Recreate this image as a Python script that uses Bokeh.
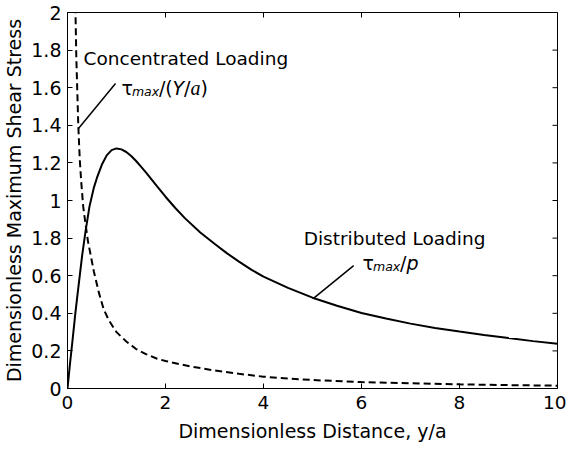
import math
from bokeh.plotting import figure
from bokeh.models import FixedTicker, Range1d, Label
from bokeh.embed import file_html
from bokeh.resources import INLINE

# ---- data ----
dist_x = [0, 0.05, 0.1, 0.16, 0.2, 0.25, 0.3, 0.37, 0.45, 0.54, 0.6, 0.7, 0.8, 0.9, 1.0, 1.1,
          1.2, 1.3, 1.4, 1.5, 1.6, 1.8, 2.0, 2.2, 2.4, 2.71, 3.0, 3.25, 3.5, 3.75, 4.0, 4.5,
          5.0, 5.5, 6.0, 6.5, 7.0, 7.5, 8.0, 8.5, 9.0, 9.5, 10]
dist_y = [0, 0.13, 0.25, 0.40, 0.49, 0.60, 0.71, 0.84, 0.97, 1.07, 1.12, 1.19, 1.24, 1.268, 1.277, 1.272,
          1.258, 1.237, 1.21, 1.18, 1.15, 1.085, 1.02, 0.96, 0.905, 0.83, 0.77, 0.72, 0.675, 0.632, 0.595, 0.535,
          0.483, 0.44, 0.402, 0.372, 0.345, 0.322, 0.303, 0.285, 0.268, 0.252, 0.238]

conc_x = [0.15, 0.163, 0.18, 0.2, 0.22, 0.25, 0.28, 0.32, 0.37, 0.42, 0.48, 0.54, 0.64, 0.74, 0.85,
          1.0, 1.2, 1.4, 1.6, 1.83, 2.0, 2.5, 3, 3.5, 4, 4.5, 5, 6, 7, 8, 9, 10]
conc_y = [2.15, 2.0, 1.76, 1.58, 1.40, 1.22, 1.10, 0.97, 0.87, 0.78, 0.70, 0.62, 0.51, 0.42, 0.36,
          0.30, 0.25, 0.21, 0.183, 0.158, 0.146, 0.118, 0.096, 0.078, 0.063, 0.053, 0.045, 0.034, 0.028, 0.022, 0.018, 0.015]

x_ticks = [0, 2, 4, 6, 8, 10]
y_ticks = [0, 0.2, 0.4, 0.6, 0.8, 1.0, 1.2, 1.4, 1.6, 1.8, 2.0]
y_tick_labels = ["0", "0.2", "0.4", "0.6", "1.8", "1", "1.2", "1.4", "1.6", "1.8", "2"]

x_label = "Dimensionless Distance, y/a"
y_label = "Dimensionless Maximum Shear Stress"

conc_title = "Concentrated Loading"
dist_title = "Distributed Loading"
conc_sym_parts = ["τ", "max", "/(", "Y", "/", "a", ")"]
dist_sym_parts = ["τ", "max", "/", "p"]

# annotation anchor points (data units)
conc_title_pos = (0.327, 1.755)
dist_title_pos = (4.82, 0.80)
conc_sym_pos = (1.10, 1.60)
dist_sym_pos = (6.02, 0.67)
conc_leader_x = [0.224, 0.98]
conc_leader_y = [1.383, 1.622]
dist_leader_x = [5.02, 5.84]
dist_leader_y = [0.479, 0.654]

FONT = "DejaVu Sans"
SERIF = "Liberation Serif"

x0, x1 = x_ticks[0], x_ticks[-1]
y0, y1 = y_ticks[0], y_ticks[-1]

p = figure(width=566, height=450, output_backend="svg", toolbar_location=None,
           x_range=Range1d(x0, x1), y_range=Range1d(y0, y1),
           min_border_left=67, min_border_right=9, min_border_top=12, min_border_bottom=62)
p.grid.visible = False
p.outline_line_color = "black"
p.outline_line_width = 1
p.background_fill_color = "white"
p.border_fill_color = "white"

for ax in (p.xaxis[0], p.yaxis[0]):
    ax.major_tick_in = 5
    ax.major_tick_out = 0
    ax.minor_tick_line_color = None
    ax.axis_line_color = "black"
    ax.major_tick_line_color = "black"
    ax.major_label_text_font = FONT
    ax.major_label_text_color = "black"
    ax.major_label_text_font_size = "19px"
    ax.axis_label_text_font = FONT
    ax.axis_label_text_font_style = "normal"
    ax.axis_label_text_font_size = "19px"
    ax.axis_label_text_color = "black"

xa = p.xaxis[0]
ya = p.yaxis[0]
xa.ticker = FixedTicker(ticks=x_ticks)
ya.ticker = FixedTicker(ticks=y_ticks)
ya.major_label_overrides = {t: s for t, s in zip(y_ticks, y_tick_labels)}
xa.major_label_text_font_size = "18.5px"
xa.major_label_standoff = 7
ya.major_label_standoff = 6
ya.axis_label = y_label
ya.axis_label_standoff = 3
xa.axis_label = x_label
xa.axis_label_standoff = 8

# inward ticks on top and right edges (clipped to the frame)
p.scatter(x=x_ticks, y=[y1] * len(x_ticks), marker="dash", angle=math.pi / 2, size=10,
          line_color="black", line_width=1)
p.scatter(x=[x1] * len(y_ticks), y=y_ticks, marker="dash", size=10,
          line_color="black", line_width=1)

# curves
p.line(dist_x, dist_y, line_color="black", line_width=2)
p.line(conc_x, conc_y, line_color="black", line_width=2, line_dash="7 4")

# leaders
p.line(conc_leader_x, conc_leader_y, line_color="black", line_width=1.5)
p.line(dist_leader_x, dist_leader_y, line_color="black", line_width=1.5)

def txt(x, y, s, font=FONT, style="normal", size="18.5px", xo=0, yo=0):
    p.add_layout(Label(x=x, y=y, text=s, x_offset=xo, y_offset=yo,
                       text_font=font, text_font_style=style, text_font_size=size,
                       text_baseline="alphabetic", text_align="left", text_color="black"))

txt(*conc_title_pos, conc_title)
txt(*dist_title_pos, dist_title)

def rich(pos, parts, styles):
    off = 0
    for s, (font, style, size, dy, w) in zip(parts, styles):
        txt(pos[0], pos[1], s, font, style, size, off, dy)
        off += w

conc_styles = [
    (FONT, "normal", "19px", 0, 10.5),
    (FONT, "italic", "12.5px", -4, 27),
    (FONT, "normal", "19px", 0, 13.5),
    (FONT, "italic", "19px", 0, 11.5),
    (FONT, "normal", "19px", 0, 6.5),
    (SERIF, "italic", "20px", 0, 10),
    (FONT, "normal", "19px", 0, 8),
]
dist_styles = [
    (FONT, "normal", "19px", 0, 10.5),
    (FONT, "italic", "12.5px", -4, 27),
    (FONT, "normal", "19px", 0, 6.5),
    (FONT, "italic", "19px", 0, 12),
]
rich(conc_sym_pos, conc_sym_parts, conc_styles)
rich(dist_sym_pos, dist_sym_parts, dist_styles)

open("out.html", "w").write(file_html(p, INLINE))
